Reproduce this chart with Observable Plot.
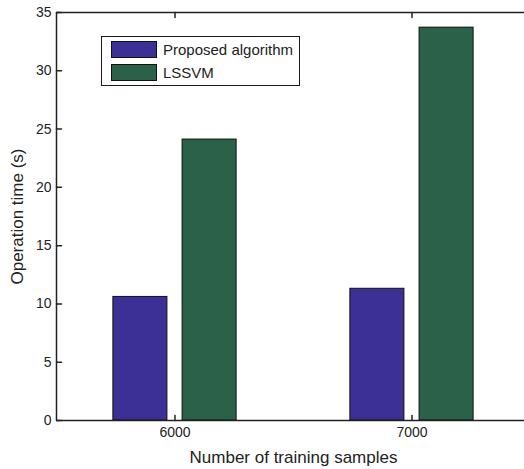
<!DOCTYPE html>
<html>
<head>
<meta charset="utf-8">
<script src="https://cdn.jsdelivr.net/npm/d3@7"></script>
<script src="https://cdn.jsdelivr.net/npm/@observablehq/plot@0.6"></script>
<style>
  html, body { margin: 0; padding: 0; background: #fff; overflow: hidden; }
  #wrap { position: relative; width: 524px; height: 469px; overflow: hidden; font-family: "Liberation Sans", Arial, sans-serif; }
  #legend { position: absolute; left: 101px; top: 36px; width: 197px; height: 48px; border: 1.5px solid #1a1a1a; background: #fff; }
  .item { position: absolute; left: 9px; height: 17px; display: flex; align-items: center; }
  .sw { width: 46px; height: 17px; border: 1px solid #111; box-sizing: border-box; margin-right: 6px; }
  .lab { font-size: 15px; color: #222; }
</style>
</head>
<body>
<div id="wrap"></div>
<script>
const samples = [6000, 7000];
const series = ["Proposed algorithm", "LSSVM"];
const proposed = [10.6, 11.3];
const lssvm = [24.1, 33.7];
const colors = ["#3c2f96", "#2b6148"];
const yTicks = [0, 5, 10, 15, 20, 25, 30, 35];
const xTicks = [6000, 7000];

// grouped bar layout (in units of samples, spacing 1000)
const groupOffset = [-146, 146];
const halfWidth = 114;

const rows = [];
samples.forEach((s, i) => {
  [proposed, lssvm].forEach((vals, j) => {
    rows.push({s, series: series[j], v: vals[i], j});
  });
});

const tickShape = {draw(ctx, l) { ctx.moveTo(0, 0); ctx.lineTo(0, -l); }};
const ink = "#222";

const plot = Plot.plot({
  width: 524,
  height: 469,
  marginLeft: 56,
  marginRight: -6,
  marginTop: 12,
  marginBottom: 49,
  style: {fontFamily: "'Liberation Sans', Arial, sans-serif", fontSize: "14px", color: ink, background: "#fff"},
  x: {domain: [5500, 7500]},
  y: {domain: [0, 35]},
  color: {domain: series, range: colors},
  marks: [
    Plot.rectY(rows, {
      x1: d => d.s + groupOffset[d.j] - halfWidth,
      x2: d => d.s + groupOffset[d.j] + halfWidth,
      y1: 0, y2: "v", fill: "series", stroke: "#111", strokeWidth: 1
    }),
    Plot.ruleX([5500], {stroke: ink, strokeWidth: 1.5}),
    Plot.ruleY([0, 35], {stroke: ink, strokeWidth: 1.5}),
    Plot.vector(yTicks, {x: 5500, y: d => d, length: 5, rotate: 90, anchor: "start", shape: tickShape, stroke: ink}),
    Plot.vector(xTicks, {x: d => d, y: 0, length: 5, rotate: 0, anchor: "start", shape: tickShape, stroke: ink}),
    Plot.vector(xTicks, {x: d => d, y: 35, length: 5, rotate: 180, anchor: "start", shape: tickShape, stroke: ink}),
    Plot.axisY({ticks: yTicks, tickSize: 0, tickPadding: 5, fontSize: 14, label: "Operation time (s)", labelAnchor: "center", labelArrow: "none", labelOffset: 46}),
    Plot.axisX({ticks: xTicks, tickSize: 0, tickPadding: 7, fontSize: 14, tickFormat: d => String(d), label: "Number of training samples", labelAnchor: "center", labelArrow: "none", labelOffset: 42})
  ]
});
const wrap = document.getElementById("wrap");
wrap.appendChild(plot);

plot.querySelectorAll("[aria-label$='axis label'] text, [aria-label$='axis label']").forEach(n => n.setAttribute("font-size", "17"));

const legend = document.createElement("div");
legend.id = "legend";
series.forEach((name, i) => {
  const it = document.createElement("div");
  it.className = "item";
  it.style.top = (i === 0 ? 4 : 27) + "px";
  const sw = document.createElement("div");
  sw.className = "sw";
  sw.style.background = colors[i];
  const lab = document.createElement("span");
  lab.className = "lab";
  lab.textContent = name;
  it.appendChild(sw); it.appendChild(lab);
  legend.appendChild(it);
});
wrap.appendChild(legend);
</script>
</body>
</html>
